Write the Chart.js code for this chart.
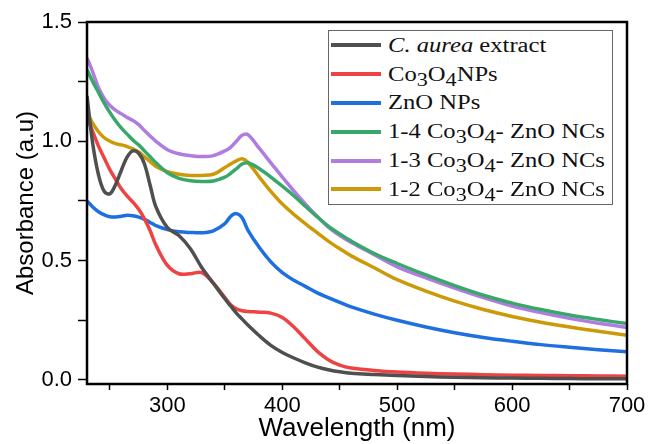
<!DOCTYPE html>
<html>
<head>
<meta charset="utf-8">
<title>UV-Vis absorbance</title>
<script src="https://cdn.jsdelivr.net/npm/chart.js@4/dist/chart.umd.min.js"></script>
<style>
  body { margin: 0; background: #fff; }
  #wrap { position: relative; width: 651px; height: 444px; }
  #legend {
    position: absolute; left: 328px; top: 30px; width: 283px;
    border: 1px solid #666; background: #fff;
    font-family: "Liberation Serif", "Times New Roman", serif; font-size: 20.5px; color: #111;
  }
  .row { height: 28.8px; display: flex; align-items: center; white-space: nowrap; }
  .swatch { width: 50px; height: 4px; margin-left: 2px; margin-right: 7px; flex: none; }
  .txt { display: inline-block; transform: scaleX(1.2); transform-origin: left center; }
  .row sub { font-size: 0.9em; vertical-align: -0.28em; line-height: 0; }
</style>
</head>
<body>
<div id="wrap">
  <canvas id="chart" width="651" height="444"></canvas>
  <div id="legend"></div>
</div>
<script>
// wavelength (nm)
const wavelengths = [230, 235, 240, 245, 250, 255, 260, 265, 270, 275, 280, 285, 290, 300, 310, 320, 330, 340, 350, 355,
  360, 365, 370, 380, 390, 400, 410, 420, 430, 440, 450, 460, 480, 500, 525, 550, 575, 600, 625, 650, 675, 700];

// absorbance (a.u) per sample
const extractVals = [1.19, 0.99, 0.86, 0.79, 0.78, 0.82, 0.88, 0.935, 0.96, 0.95, 0.905, 0.815, 0.725, 0.638, 0.605, 0.55, 0.47, 0.405, 0.34, 0.31,
  0.28, 0.255, 0.23, 0.185, 0.145, 0.115, 0.092, 0.072, 0.055, 0.043, 0.034, 0.028, 0.023, 0.019, 0.014, 0.011, 0.009, 0.008, 0.007, 0.006, 0.005, 0.005];
const co3o4Vals = [1.10, 1.04, 0.98, 0.93, 0.88, 0.84, 0.80, 0.77, 0.745, 0.715, 0.675, 0.625, 0.565, 0.48, 0.445, 0.445, 0.45, 0.405, 0.345, 0.315,
  0.298, 0.29, 0.287, 0.284, 0.28, 0.262, 0.222, 0.172, 0.122, 0.085, 0.062, 0.05, 0.04, 0.033, 0.028, 0.025, 0.022, 0.02, 0.019, 0.018, 0.017, 0.016];
const znoVals = [0.75, 0.725, 0.705, 0.692, 0.684, 0.683, 0.686, 0.69, 0.688, 0.682, 0.673, 0.66, 0.647, 0.63, 0.621, 0.618, 0.617, 0.625, 0.655, 0.685,
  0.697, 0.68, 0.628, 0.555, 0.495, 0.45, 0.418, 0.392, 0.366, 0.345, 0.325, 0.306, 0.276, 0.25, 0.222, 0.198, 0.178, 0.162, 0.148, 0.137, 0.127, 0.118];
const nc14Vals = [1.30, 1.25, 1.205, 1.16, 1.12, 1.085, 1.055, 1.03, 1.005, 0.985, 0.96, 0.935, 0.91, 0.868, 0.845, 0.835, 0.832, 0.834, 0.85, 0.866,
  0.885, 0.905, 0.91, 0.885, 0.85, 0.812, 0.772, 0.728, 0.685, 0.645, 0.612, 0.582, 0.53, 0.488, 0.44, 0.395, 0.355, 0.322, 0.295, 0.272, 0.253, 0.236];
const nc13Vals = [1.35, 1.29, 1.225, 1.18, 1.15, 1.13, 1.115, 1.10, 1.087, 1.07, 1.045, 1.022, 1.0, 0.965, 0.948, 0.94, 0.936, 0.94, 0.96, 0.975,
  1.0, 1.025, 1.028, 0.97, 0.91, 0.85, 0.792, 0.738, 0.687, 0.64, 0.605, 0.576, 0.525, 0.474, 0.428, 0.385, 0.345, 0.31, 0.282, 0.258, 0.238, 0.22];
const nc12Vals = [1.12, 1.075, 1.04, 1.015, 1.0, 0.99, 0.985, 0.978, 0.968, 0.955, 0.935, 0.915, 0.895, 0.873, 0.862, 0.857, 0.857, 0.862, 0.89, 0.905,
  0.918, 0.927, 0.912, 0.85, 0.79, 0.737, 0.694, 0.655, 0.618, 0.582, 0.55, 0.52, 0.47, 0.42, 0.372, 0.33, 0.295, 0.266, 0.242, 0.222, 0.204, 0.187];

const seriesLabels = ['C. aurea extract', 'Co3O4NPs', 'ZnO NPs', '1-4 Co3O4- ZnO NCs', '1-3 Co3O4- ZnO NCs', '1-2 Co3O4- ZnO NCs'];
const seriesValues = [extractVals, co3o4Vals, znoVals, nc14Vals, nc13Vals, nc12Vals];
const seriesColors = ['#4f4f4f', '#ee4343', '#1e6fe0', '#38a86a', '#b07ce0', '#cc9a08'];

const xTicks = [250, 300, 350, 400, 450, 500, 550, 600, 650, 700];
const yTicks = [0, 0.25, 0.5, 0.75, 1.0, 1.25, 1.5];

const sansFont = '"Liberation Sans", Arial, Helvetica, sans-serif';

// frame round the plot area
const framePlugin = {
  id: 'frame',
  afterDatasetsDraw(chart) {
    const { ctx, chartArea: a } = chart;
    ctx.save();
    ctx.strokeStyle = '#000';
    ctx.lineWidth = 2.5;
    ctx.strokeRect(a.left, a.top, a.right - a.left, a.bottom - a.top);
    ctx.restore();
  }
};

const datasets = seriesLabels.map((label, i) => ({
  label: label,
  data: wavelengths.map((w, j) => ({ x: w, y: seriesValues[i][j] })),
  borderColor: seriesColors[i],
  backgroundColor: seriesColors[i],
  borderWidth: 3.5,
  pointRadius: 0,
  tension: 0.35,
  fill: false
}));

const chart = new Chart(document.getElementById('chart'), {
  type: 'line',
  data: { datasets: datasets },
  options: {
    responsive: false,
    animation: false,
    layout: { padding: { top: 22, right: 24, left: 0, bottom: 0 } },
    plugins: { legend: { display: false }, tooltip: { enabled: false } },
    scales: {
      x: {
        type: 'linear',
        min: 230,
        max: 700,
        afterBuildTicks: s => { s.ticks = xTicks.map(v => ({ value: v })); },
        afterFit: s => { s.height = 60; },
        border: { display: false },
        grid: { drawOnChartArea: false, drawTicks: true, tickLength: 6, tickColor: '#000', tickWidth: 1.5 },
        ticks: {
          autoSkip: false, maxRotation: 0, padding: 3, color: '#000',
          font: { family: sansFont, size: 22 },
          callback: v => (v % 100 === 0 ? v : '')
        },
        title: {
          display: true, text: 'Wavelength (nm)', color: '#000',
          font: { family: sansFont, size: 26 }, padding: { top: 0, bottom: 0 }
        }
      },
      y: {
        min: -0.017,
        max: 1.5,
        afterBuildTicks: s => { s.ticks = yTicks.map(v => ({ value: v })); },
        afterFit: s => { s.width = 87; },
        border: { display: false },
        grid: { drawOnChartArea: false, drawTicks: true, tickLength: 9, tickColor: '#000', tickWidth: 1.5 },
        ticks: {
          autoSkip: false, padding: 6, color: '#000',
          font: { family: sansFont, size: 22 },
          callback: v => (v % 0.5 === 0 ? v.toFixed(1) : '')
        },
        title: {
          display: true, text: 'Absorbance (a.u)', color: '#000',
          font: { family: sansFont, size: 24 }, padding: { top: 12, bottom: 0 }
        }
      }
    }
  },
  plugins: [framePlugin]
});

// legend box with italic species name and subscripts
const legendBox = document.getElementById('legend');
chart.data.datasets.forEach(ds => {
  const row = document.createElement('div');
  row.className = 'row';
  const sw = document.createElement('span');
  sw.className = 'swatch';
  sw.style.background = ds.borderColor;
  const txt = document.createElement('span');
  txt.className = 'txt';
  txt.innerHTML = ds.label
    .replace('C. aurea', '<i>C. aurea</i>')
    .replace(/([a-zA-Z])(\d)/g, '$1<sub>$2</sub>');
  row.appendChild(sw);
  row.appendChild(txt);
  legendBox.appendChild(row);
});
</script>
</body>
</html>
